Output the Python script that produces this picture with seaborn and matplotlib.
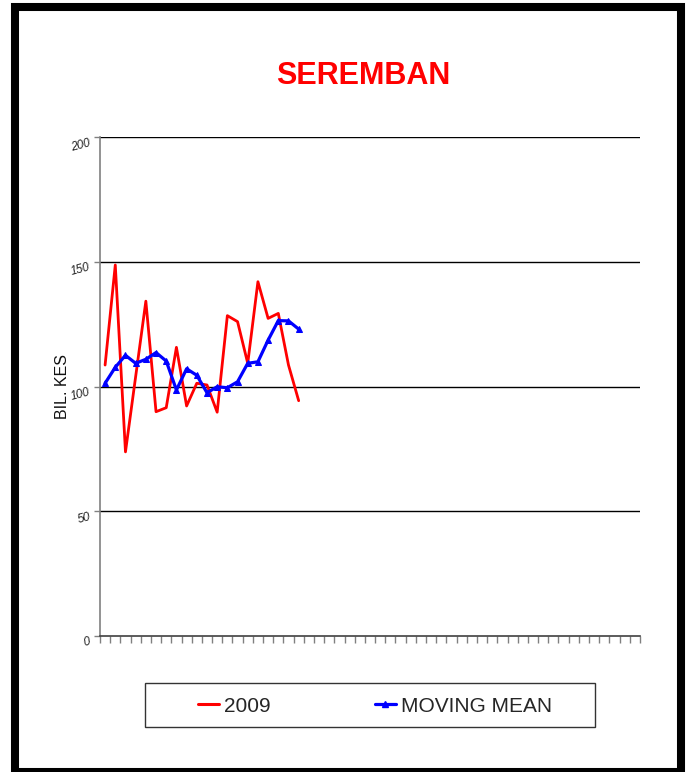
import numpy as np
import pandas as pd
import matplotlib
matplotlib.use('Agg')
import matplotlib.pyplot as plt
import seaborn as sns
from matplotlib.patches import Rectangle
from matplotlib.lines import Line2D

# weekly cases, Seremban
n_weeks = 53
weeks = list(range(1, 21))
cases_2009 = [108.6, 148.7, 73.8, 104.0, 134.2, 89.9, 91.5, 115.7, 92.2, 101.3,
              100.6, 89.7, 128.4, 126.0, 109.3, 142.0, 127.3, 129.3, 108.6, 94.3]
moving_mean = [101.3, 107.7, 112.5, 109.3, 110.9, 113.6, 110.2, 98.6, 107.1, 104.5,
               97.5, 99.9, 99.5, 101.9, 109.3, 109.9, 118.6, 126.4, 126.3, 123.0]
y_ticks = [0, 50, 100, 150, 200]

df = pd.DataFrame({'week': weeks, '2009': cases_2009, 'MOVING MEAN': moving_mean})

sns.set_style('white')
plt.rcParams['font.family'] = ['Liberation Sans', 'DejaVu Sans']

fig = plt.figure(figsize=(6.88, 7.72), dpi=100)
ax = fig.add_axes([100 / 688, 1 - 636 / 772, 540 / 688, 499 / 772])

sns.lineplot(data=df, x='week', y='2009', ax=ax, color='#ff0000', linewidth=2.0)
sns.lineplot(data=df, x='week', y='MOVING MEAN', ax=ax, color='#0000ff', linewidth=2.3,
             marker='^', markersize=5, markeredgecolor='#0000ff')

ax.set_xlim(0.5, n_weeks + 0.5)
ax.set_ylim(0, 200)
ax.set_xticks(np.arange(0.5, n_weeks + 1, 1))
ax.set_xticklabels([])
ax.set_yticks(y_ticks)
ax.set_yticklabels([str(v) for v in y_ticks], rotation=15, fontsize=8.5,
                   fontstyle='italic', va='top', color='#222222')
ax.tick_params(axis='x', direction='out', length=5, width=1, color='#808080', bottom=True)
ax.tick_params(axis='y', direction='out', length=4, width=1, color='#808080', left=True, pad=2)
for v in y_ticks[1:]:
    ax.axhline(v, color='black', linewidth=1, zorder=1)

sns.despine(ax=ax, top=True, right=True)
ax.spines['left'].set_color('#808080')
ax.spines['left'].set_linewidth(1.2)
ax.spines['bottom'].set_color('#404040')
ax.spines['bottom'].set_linewidth(1.2)

ax.set_xlabel('')
ax.set_ylabel('BIL. KES', fontsize=11.5, labelpad=0, color='#111111')

fig.text(363 / 688, 1 - 76 / 772, 'SEREMBAN', color='#ff0000', fontsize=22,
         fontweight='bold', ha='center', va='center')

# legend box and entries
fig.patches.append(Rectangle((145 / 688, 1 - 727 / 772), 450 / 688, 44 / 772,
                             transform=fig.transFigure, fill=False,
                             edgecolor='#333333', linewidth=1))
handles = [Line2D([], [], color='#ff0000', linewidth=2.2),
           Line2D([], [], color='#0000ff', linewidth=2.3, marker='^', markersize=4)]
fig.legend(handles, ['2009', 'MOVING MEAN'], ncol=2, loc='center',
           bbox_to_anchor=(375 / 688, 1 - 706 / 772), fontsize=15, frameon=False,
           handlelength=1.0, handletextpad=0.25, columnspacing=5.0)

fig.patches.append(Rectangle((15 / 688, 0), 666 / 688, 1 - 7 / 772,
                             transform=fig.transFigure, fill=False,
                             edgecolor='black', linewidth=5.8))

fig.savefig('out.png', dpi=100)
